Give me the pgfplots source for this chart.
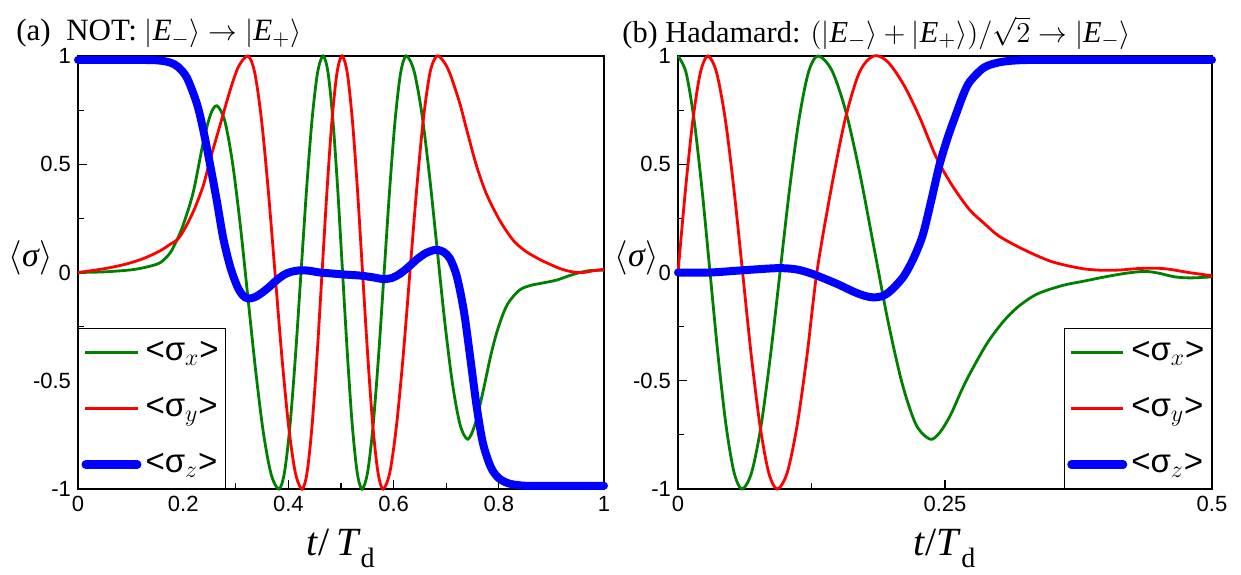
\documentclass[border=0pt]{standalone}
\usepackage{pgfplots}
\pgfplotsset{compat=1.18}
\usepackage{fontspec}
\setmainfont{Liberation Serif}
\newfontfamily\arial{Liberation Sans}
\definecolor{cg}{RGB}{0,128,0}
\definecolor{cr}{RGB}{255,0,0}
\definecolor{cb}{RGB}{0,0,255}
\newcommand\tickfont{\arial\fontsize{11bp}{13bp}\selectfont}
\newcommand\legfont{\arial\fontsize{16.5bp}{18bp}\selectfont}
\newcommand\titfont{\fontsize{15.5bp}{19bp}\selectfont}
\newcommand\titbfont{\fontsize{15.2bp}{19bp}\selectfont}
\newcommand\ylfont{\fontsize{17bp}{20bp}\selectfont}
\newcommand\labfont{\fontsize{20bp}{24bp}\selectfont}

\pgfplotsset{
  myax/.style={
    scale only axis, height=216.5bp,
    ymin=-1, ymax=1, clip=false,
    axis line style={line width=0.75bp},
    tick style={black, line width=0.6bp},
    major tick length=4.5bp, minor tick length=3bp,
    tick align=inside, xtick pos=left, ytick pos=left,
    ytick={-1,-0.5,0,0.5,1}, yticklabels={-1,-0.5,0,0.5,1},
    minor ytick={-0.75,-0.25,0.25,0.75},
    ticklabel style={font=\tickfont},
    legend image code/.code={\draw[##1] (0bp,0bp) -- (26bp,0bp);},
    legend cell align=left,
  },
  legbox/.style={draw=black, line width=0.5bp, fill=white, font=\legfont,
    inner xsep=1.5bp, inner ysep=4bp, row sep=12bp,
    nodes={inner xsep=2bp, inner ysep=0pt, text height=12bp, text depth=4bp}},
  gl/.style={cg, line width=1.4bp, smooth},
  rl/.style={cr, line width=1.4bp, smooth},
  bl/.style={cb, line width=4bp, smooth, line cap=round},
}

\begin{document}
\begin{tikzpicture}
\useasboundingbox (0,0) rectangle (620.5bp,287.5bp);

% ---------------- left panel ----------------
\begin{axis}[myax, at={(39bp,43bp)}, anchor=south west, width=263bp,
  xmin=0, xmax=1, xtick={0,0.2,0.4,0.6,0.8,1}, xticklabels={0,0.2,0.4,0.6,0.8,1},
  minor xtick={0.1,0.3,0.5,0.7,0.9},
  legend style={legbox, at={(0,0)}, anchor=south west}]
\addplot[gl] coordinates {
(0,0) (0.05,0.003) (0.1,0.012) (0.13,0.025) (0.156,0.045) (0.175,0.09) (0.188,0.15) (0.2,0.22) (0.219,0.37) (0.238,0.60) (0.252,0.73) (0.264,0.77)
(0.2788,0.703) (0.2935,0.511) (0.3083,0.224) (0.323,-0.115) (0.3378,-0.454) (0.3525,-0.741) (0.3673,-0.933) (0.382,-1)
(0.3925,-0.924) (0.403,-0.707) (0.4135,-0.383) (0.424,0) (0.4345,0.383) (0.445,0.707) (0.4555,0.924) (0.466,1)
(0.4753,0.924) (0.4845,0.707) (0.4938,0.383) (0.503,0) (0.5123,-0.383) (0.5215,-0.707) (0.5308,-0.924) (0.54,-1)
(0.5505,-0.924) (0.561,-0.707) (0.5715,-0.383) (0.582,0) (0.5925,0.383) (0.603,0.707) (0.6135,0.924) (0.624,1)
(0.6386,0.933) (0.6533,0.741) (0.6679,0.454) (0.6825,0.115) (0.6971,-0.224) (0.7118,-0.511) (0.7264,-0.703) (0.741,-0.77)
(0.755,-0.70) (0.77,-0.55) (0.785,-0.38) (0.797,-0.27) (0.81,-0.18) (0.821,-0.13) (0.84,-0.08) (0.86,-0.06) (0.88,-0.05) (0.91,-0.035) (0.94,-0.01) (0.97,0.008) (1,0.01)
};
\addlegendentry{<σ$_x$>}
\addplot[rl] coordinates {
(0,0) (0.03,0.01) (0.06,0.022) (0.093,0.04) (0.125,0.065) (0.156,0.10) (0.175,0.13) (0.188,0.15) (0.2,0.19) (0.219,0.28) (0.238,0.40) (0.251,0.52) (0.27,0.68) (0.289,0.84) (0.305,0.95) (0.323,1)
(0.3359,0.924) (0.3488,0.707) (0.3616,0.383) (0.3745,0) (0.3874,-0.383) (0.4003,-0.707) (0.4131,-0.924) (0.426,-1)
(0.4355,-0.924) (0.445,-0.707) (0.4545,-0.383) (0.464,0) (0.4735,0.383) (0.483,0.707) (0.4925,0.924) (0.502,1)
(0.5118,0.924) (0.5215,0.707) (0.5313,0.383) (0.541,0) (0.5508,-0.383) (0.5605,-0.707) (0.5703,-0.924) (0.58,-1)
(0.5928,-0.924) (0.6055,-0.707) (0.6183,-0.383) (0.631,0) (0.6438,0.383) (0.6565,0.707) (0.6693,0.924) (0.682,1)
(0.695,0.975) (0.707,0.92) (0.726,0.78) (0.74,0.65) (0.758,0.49) (0.777,0.36) (0.802,0.24) (0.827,0.15) (0.85,0.10) (0.878,0.06) (0.9,0.035) (0.92,0.015) (0.94,0.003) (0.96,0.0) (0.98,0.008) (1,0.015)
};
\addlegendentry{<σ$_y$>}
\addplot[bl] coordinates {
(0,0.982) (0.1,0.982) (0.15,0.98) (0.175,0.97) (0.19,0.95) (0.207,0.90) (0.226,0.78) (0.238,0.66) (0.251,0.50) (0.264,0.33) (0.276,0.16) (0.289,0.03) (0.302,-0.06) (0.313,-0.105) (0.323,-0.12) (0.335,-0.115) (0.346,-0.10) (0.362,-0.07) (0.378,-0.035) (0.392,-0.01) (0.405,0.003) (0.422,0.01) (0.44,0.008) (0.46,0.0) (0.485,-0.005) (0.51,-0.01) (0.536,-0.014) (0.56,-0.022) (0.58,-0.03) (0.597,-0.025) (0.612,-0.006) (0.628,0.025) (0.644,0.06) (0.66,0.088) (0.672,0.10) (0.682,0.105) (0.695,0.095) (0.707,0.065) (0.718,0.0) (0.726,-0.08) (0.735,-0.2) (0.745,-0.38) (0.758,-0.62) (0.77,-0.79) (0.785,-0.90) (0.8,-0.95) (0.82,-0.975) (0.85,-0.985) (0.9,-0.985) (1,-0.985)
};
\addlegendentry{<σ$_z$>}
\end{axis}

% ---------------- right panel ----------------
\begin{axis}[myax, at={(339bp,43bp)}, anchor=south west, width=267bp,
  xmin=0, xmax=0.5, xtick={0,0.25,0.5}, xticklabels={0,0.25,0.5},
  minor xtick={0.125,0.375},
  legend style={legbox, at={(1,0)}, anchor=south east}]
\addplot[gl] coordinates {
(0,1) (0.0075,0.924) (0.015,0.707) (0.0225,0.383) (0.03,0) (0.0375,-0.383) (0.045,-0.707) (0.0525,-0.924) (0.06,-1)
(0.0689,-0.924) (0.0778,-0.707) (0.0866,-0.383) (0.0955,0) (0.1044,0.383) (0.1133,0.707) (0.1221,0.924) (0.131,1)
(0.1441,0.933) (0.1573,0.741) (0.1704,0.454) (0.1835,0.115) (0.1966,-0.224) (0.2098,-0.511) (0.2229,-0.703) (0.236,-0.77)
(0.245,-0.74) (0.255,-0.66) (0.265,-0.55) (0.273,-0.47) (0.289,-0.33) (0.304,-0.23) (0.318,-0.16) (0.336,-0.10) (0.36,-0.06) (0.38,-0.04) (0.40,-0.02) (0.42,-0.003) (0.437,0.005) (0.45,-0.003) (0.465,-0.02) (0.48,-0.025) (0.5,-0.02)
};
\addlegendentry{<σ$_x$>}
\addplot[rl] coordinates {
(0,0) (0.007,0.383) (0.014,0.707) (0.021,0.924) (0.028,1)
(0.0361,0.924) (0.0443,0.707) (0.0524,0.383) (0.0605,0) (0.0686,-0.383) (0.0768,-0.707) (0.0849,-0.924) (0.093,-1)
(0.1023,-0.924) (0.1115,-0.707) (0.1208,-0.383) (0.130,0) (0.1433,0.383) (0.1565,0.707) (0.1698,0.924) (0.183,1)
(0.196,0.975) (0.211,0.87) (0.226,0.72) (0.242,0.53) (0.257,0.40) (0.273,0.29) (0.286,0.23) (0.30,0.17) (0.318,0.12) (0.335,0.08) (0.35,0.05) (0.366,0.03) (0.383,0.015) (0.40,0.01) (0.415,0.012) (0.43,0.018) (0.447,0.02) (0.46,0.015) (0.478,0.0) (0.5,-0.015)
};
\addlegendentry{<σ$_y$>}
\addplot[bl] coordinates {
(0,0) (0.03,0.0) (0.06,0.01) (0.093,0.02) (0.11,0.015) (0.122,0.0) (0.133,-0.02) (0.15,-0.055) (0.165,-0.09) (0.175,-0.108) (0.183,-0.115) (0.192,-0.108) (0.2,-0.08) (0.211,-0.02) (0.22,0.06) (0.229,0.17) (0.237,0.33) (0.245,0.50) (0.253,0.63) (0.261,0.74) (0.267,0.82) (0.273,0.88) (0.286,0.945) (0.3,0.97) (0.318,0.98) (0.35,0.982) (0.5,0.982)
};
\addlegendentry{<σ$_z$>}
\end{axis}

% ---------------- titles and labels ----------------
\node[anchor=base west, inner sep=0pt, font=\titfont] at (8bp,267bp)
  {(a)\ \ NOT: $|\textit{E}_{-}\rangle\rightarrow|\textit{E}_{+}\rangle$};
\node[anchor=base west, inner sep=0pt, font=\titbfont] at (311bp,266.4bp)
  {(b) Hadamard: $(|\textit{E}_{-}\rangle+|\textit{E}_{+}\rangle)/\sqrt{2}\rightarrow|\textit{E}_{-}\rangle$};
\node[anchor=base, inner sep=0pt, font=\labfont] at (170.5bp,10bp) {\textit{t}/\,\textit{T}\raisebox{-3bp}{\textsubscript{d}}};
\node[anchor=base, inner sep=0pt, font=\labfont] at (472.5bp,10bp) {\textit{t}/\textit{T}\raisebox{-3bp}{\textsubscript{d}}};
\node[inner sep=0pt, font=\ylfont] at (15.5bp,158.5bp) {$\langle$\textit{σ}$\rangle$};
\node[inner sep=0pt, font=\ylfont] at (318.5bp,158.5bp) {$\langle$\textit{σ}$\rangle$};
\end{tikzpicture}
\end{document}
